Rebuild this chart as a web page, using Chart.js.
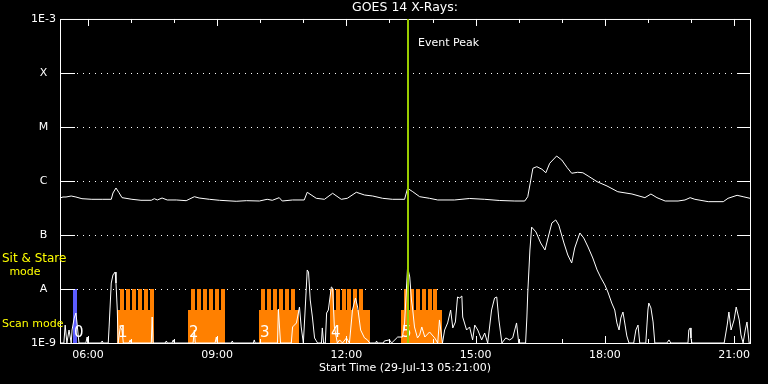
<!DOCTYPE html>
<html>
<head>
<meta charset="utf-8">
<script src="https://cdn.jsdelivr.net/npm/chart.js@4.4.0/dist/chart.umd.min.js"></script>
<style>
  html, body { margin: 0; padding: 0; background: #000; }
  canvas { display: block; }
</style>
</head>
<body>
<canvas id="goes" width="768" height="384"></canvas>
<script>
// time axis is decimal hours UT, plot starts 29-Jul-13 05:21
const startHour = 5.35;
const endHour = 21.37;
const hourTicks = [6, 7, 8, 9, 10, 11, 12, 13, 14, 15, 16, 17, 18, 19, 20, 21];

const classTicks = [1e-9, 1e-8, 1e-7, 1e-6, 1e-5, 1e-4, 1e-3];
const classLabels = ['1E-9', 'A', 'B', 'C', 'M', 'X', '1E-3'];

// 1-8 A channel (W/m^2)
const longHours = [
  5.35, 5.42, 5.49, 5.61, 5.72, 5.86, 6.09, 6.33, 6.54, 6.58,
  6.65, 6.72, 6.79, 7.02, 7.23, 7.47, 7.54, 7.61, 7.72, 7.84,
  8.05, 8.28, 8.47, 8.58, 8.82, 9.05, 9.44, 9.68, 9.98, 10.16,
  10.28, 10.44, 10.51, 10.75, 11.02, 11.09, 11.30, 11.49, 11.68, 11.88,
  12.02, 12.23, 12.42, 12.61, 12.84, 13.07, 13.35, 13.42, 13.54, 13.70,
  13.93, 14.12, 14.51, 14.86, 15.21, 15.56, 15.91, 16.14, 16.21, 16.28,
  16.33, 16.42, 16.54, 16.63, 16.72, 16.88, 17.00, 17.12, 17.23, 17.37,
  17.49, 17.61, 17.82, 18.05, 18.30, 18.63, 18.93, 19.07, 19.21, 19.40,
  19.70, 19.86, 19.98, 20.09, 20.40, 20.75, 20.86, 21.07, 21.21, 21.37
];
const longFlux = [
  4.84e-7, 5.05e-7, 5.05e-7, 5.27e-7, 5.05e-7, 4.70e-7, 4.58e-7, 4.58e-7, 4.58e-7, 5.99e-7,
  7.42e-7, 6.07e-7, 4.91e-7, 4.58e-7, 4.39e-7, 4.39e-7, 4.70e-7, 4.45e-7, 4.84e-7, 4.45e-7,
  4.45e-7, 4.32e-7, 5.12e-7, 4.84e-7, 4.58e-7, 4.39e-7, 4.21e-7, 4.32e-7, 4.26e-7, 4.58e-7,
  4.39e-7, 4.91e-7, 4.26e-7, 4.45e-7, 4.45e-7, 6.18e-7, 4.78e-7, 4.58e-7, 5.92e-7, 4.58e-7,
  4.78e-7, 6.18e-7, 5.50e-7, 5.27e-7, 4.78e-7, 4.58e-7, 4.58e-7, 7.32e-7, 6.33e-7, 5.12e-7,
  4.78e-7, 4.45e-7, 4.45e-7, 4.74e-7, 4.58e-7, 4.35e-7, 4.26e-7, 4.26e-7, 5.12e-7, 1.04e-6,
  1.72e-6, 1.84e-6, 1.65e-6, 1.42e-6, 2.13e-6, 2.90e-6, 2.45e-6, 1.79e-6, 1.39e-6, 1.45e-6,
  1.42e-6, 1.24e-6, 9.70e-7, 8.08e-7, 6.33e-7, 5.74e-7, 4.91e-7, 5.74e-7, 4.91e-7, 4.26e-7,
  4.26e-7, 4.45e-7, 4.91e-7, 4.58e-7, 4.14e-7, 4.14e-7, 4.78e-7, 5.43e-7, 5.12e-7, 4.78e-7
];

// 0.5-4 A channel, in units of 1e-9 W/m^2 (floor of the plot is 1.0)
const shortHours = [
  5.35, 5.44, 5.47, 5.51, 5.56, 5.61, 5.63, 5.68, 5.72, 5.75,
  5.79, 5.95, 5.98, 6.00, 6.30, 6.33, 6.35, 6.47, 6.49, 6.54,
  6.58, 6.63, 6.65, 6.68, 6.70, 6.75, 6.79, 6.82, 6.95, 6.98,
  7.00, 7.47, 7.49, 7.51, 7.79, 7.82, 7.84, 7.95, 7.98, 8.00,
  8.44, 8.47, 8.49, 8.95, 8.98, 9.00, 9.33, 9.35, 9.37, 9.84,
  9.86, 9.88, 10.40, 10.42, 10.47, 10.72, 10.75, 10.84, 10.91, 10.95,
  11.00, 11.05, 11.09, 11.12, 11.16, 11.21, 11.26, 11.33, 11.42, 11.44,
  11.47, 11.51, 11.54, 11.58, 11.65, 11.68, 11.72, 11.79, 11.84, 11.91,
  12.00, 12.07, 12.14, 12.21, 12.26, 12.33, 12.42, 12.49, 12.54, 12.68,
  12.70, 12.72, 12.86, 12.88, 13.00, 13.05, 13.19, 13.30, 13.35, 13.40,
  13.42, 13.47, 13.51, 13.54, 13.58, 13.65, 13.70, 13.75, 13.82, 13.93,
  14.05, 14.12, 14.16, 14.23, 14.28, 14.35, 14.42, 14.47, 14.53, 14.58,
  14.63, 14.68, 14.70, 14.79, 14.86, 14.93, 14.98, 15.05, 15.14, 15.21,
  15.28, 15.37, 15.44, 15.49, 15.54, 15.61, 15.70, 15.79, 15.86, 15.95,
  16.00, 16.16, 16.19, 16.21, 16.26, 16.30, 16.40, 16.51, 16.61, 16.68,
  16.77, 16.86, 16.93, 17.05, 17.14, 17.23, 17.30, 17.42, 17.51, 17.61,
  17.72, 17.82, 17.91, 18.00, 18.07, 18.16, 18.23, 18.28, 18.33, 18.37,
  18.42, 18.47, 18.51, 18.56, 18.67, 18.72, 18.77, 18.81, 18.95, 19.00,
  19.02, 19.07, 19.12, 19.16, 19.44, 19.49, 19.53, 19.93, 19.95, 19.98,
  20.00, 20.02, 20.77, 20.84, 20.88, 20.93, 21.00, 21.05, 21.12, 21.16,
  21.21, 21.26, 21.30, 21.35, 21.37
];
const shortFluxNano = [
  1.0, 1.0, 2.15, 1.0, 1.74, 1.0, 1.74, 2.90, 3.59, 2.15,
  1.0, 1.0, 1.29, 1.0, 1.0, 1.09, 1.0, 1.0, 1.98, 12.9,
  18.2, 20.6, 12.9, 4.08, 1.0, 1.98, 1.74, 1.0, 1.0, 1.14,
  1.0, 1.0, 3.03, 1.0, 1.0, 1.09, 1.0, 1.0, 1.14, 1.0,
  1.0, 1.74, 1.0, 1.0, 1.29, 1.0, 1.0, 1.09, 1.0, 1.0,
  1.14, 1.0, 1.0, 4.26, 1.0, 1.0, 1.98, 2.35, 4.64, 1.98,
  1.0, 5.50, 22.5, 20.6, 6.25, 3.03, 1.24, 1.0, 1.0, 1.90,
  1.0, 1.0, 3.59, 4.08, 10.9, 10.4, 1.98, 1.0, 1.14, 1.0,
  1.24, 1.0, 4.08, 6.81, 4.64, 1.74, 1.24, 1.14, 1.0, 1.0,
  1.09, 1.0, 1.0, 1.09, 1.14, 1.0, 1.29, 1.29, 2.35, 12.9,
  25.5, 16.7, 6.25, 4.08, 1.98, 1.24, 1.41, 1.98, 1.29, 1.60,
  1.24, 1.0, 2.67, 1.0, 1.74, 2.35, 4.08, 1.90, 2.45, 7.11,
  6.81, 7.42, 3.03, 1.74, 1.98, 1.14, 2.15, 1.74, 1.14, 1.53,
  1.0, 4.08, 6.81, 7.11, 2.67, 1.0, 1.24, 1.14, 1.24, 2.35,
  1.0, 1.0, 3.03, 8.42, 52.7, 140, 114, 71.1, 52.7, 88.0,
  167, 190, 153, 71.1, 42.6, 30.3, 57.4, 109, 88.0, 59.9,
  37.5, 22.5, 16.0, 11.9, 8.80, 5.50, 4.08, 2.35, 1.74, 2.90,
  3.75, 2.15, 1.35, 1.0, 1.0, 1.74, 2.15, 1.0, 1.0, 4.08,
  5.50, 4.45, 2.45, 1.0, 1.0, 1.14, 1.0, 1.0, 1.74, 1.90,
  1.24, 1.0, 1.0, 2.15, 3.75, 1.74, 2.67, 4.64, 2.67, 1.41,
  1.0, 1.74, 2.45, 1.0, 1.0
];

// observing modes
const stareStart = [5.65];
const stareEnd = [5.74];
const scanStart = [6.68, 8.33, 9.96, 11.61, 13.26];
const scanEnd = [7.54, 9.19, 10.89, 12.54, 14.21];
const scanTeeth = [
  [6.75, 6.89, 7.02, 7.16, 7.30, 7.44],
  [8.40, 8.54, 8.68, 8.82, 8.96, 9.09],
  [10.02, 10.16, 10.30, 10.44, 10.58, 10.72],
  [11.61, 11.75, 11.89, 12.02, 12.16, 12.30],
  [13.33, 13.47, 13.61, 13.75, 13.89, 14.02]
];
const modeLabels = ['0', '1', '2', '3', '4', '5'];
const modeLabelHours = [5.65, 6.68, 8.33, 9.96, 11.61, 13.26];

const eventPeakHour = 13.42;

const FONT = "'DejaVu Sans'";
Chart.defaults.font.family = FONT;
Chart.defaults.color = '#fff';

function hhmm(h) {
  return (h < 10 ? '0' : '') + h + ':00';
}

const goesDecor = {
  id: 'goesDecor',
  beforeDraw(chart) {
    const ctx = chart.ctx;
    ctx.save();
    ctx.fillStyle = '#000';
    ctx.fillRect(0, 0, chart.width, chart.height);
    ctx.restore();
  },
  beforeDatasetsDraw(chart) {
    const { ctx, chartArea: a, scales: { x, y } } = chart;
    const px = v => Math.round(x.getPixelForValue(v));
    ctx.save();
    // dotted flare class lines
    ctx.strokeStyle = '#fff';
    ctx.lineWidth = 1;
    ctx.setLineDash([1, 5]);
    for (let i = 1; i < classTicks.length - 1; i++) {
      const py = Math.round(y.getPixelForValue(classTicks[i])) + 0.5;
      ctx.beginPath();
      ctx.moveTo(a.left + 17, py);
      ctx.lineTo(a.right - 14, py);
      ctx.stroke();
    }
    ctx.setLineDash([]);

    // scan mode blocks with sit & stare teeth
    const yA = Math.round(y.getPixelForValue(1e-8));
    const yScan = Math.round(y.getPixelForValue(4.1e-9));
    ctx.fillStyle = '#ff8000';
    scanStart.forEach((s, i) => {
      const x0 = px(s);
      ctx.fillRect(x0, yScan, px(scanEnd[i]) - x0, a.bottom - yScan);
      scanTeeth[i].forEach(t => {
        const t0 = px(t);
        ctx.fillRect(t0, yA, 4, a.bottom - yA);
      });
    });
    ctx.fillStyle = '#5c5cff';
    stareStart.forEach((s, i) => {
      const x0 = px(s);
      ctx.fillRect(x0, yA, px(stareEnd[i]) - x0, a.bottom - yA);
    });

    // mode numbers
    ctx.fillStyle = '#fff';
    ctx.font = '15px ' + FONT;
    ctx.textAlign = 'left';
    ctx.textBaseline = 'middle';
    modeLabels.forEach((lab, i) => {
      ctx.fillText(lab, px(modeLabelHours[i]) + 1, a.bottom - 10);
    });
    ctx.restore();
  },
  afterDatasetsDraw(chart) {
    const { ctx, chartArea: a, scales: { x, y } } = chart;
    ctx.save();
    ctx.strokeStyle = '#fff';
    ctx.lineWidth = 1;
    // frame
    ctx.strokeRect(a.left + 0.5, a.top + 0.5, a.right - a.left, a.bottom - a.top);
    // class ticks, inside on both sides
    ctx.beginPath();
    for (let i = 1; i < classTicks.length - 1; i++) {
      const py = Math.round(y.getPixelForValue(classTicks[i])) + 0.5;
      ctx.moveTo(a.left, py); ctx.lineTo(a.left + 15, py);
      ctx.moveTo(a.right - 13, py); ctx.lineTo(a.right + 1, py);
    }
    // hour ticks, top and bottom
    x.ticks.forEach((t, i) => {
      const tx = Math.round(x.getPixelForTick(i)) + 0.5;
      const len = t.value % 3 === 0 ? 7 : 4;
      ctx.moveTo(tx, a.top); ctx.lineTo(tx, a.top + len);
      ctx.moveTo(tx, a.bottom); ctx.lineTo(tx, a.bottom - len);
    });
    ctx.stroke();

    // event peak marker
    const ex = Math.round(x.getPixelForValue(eventPeakHour));
    ctx.strokeStyle = '#99cc00';
    ctx.lineWidth = 2;
    ctx.beginPath();
    ctx.moveTo(ex, a.top);
    ctx.lineTo(ex, a.bottom);
    ctx.stroke();
    ctx.fillStyle = '#fff';
    ctx.font = '11px ' + FONT;
    ctx.textAlign = 'left';
    ctx.textBaseline = 'middle';
    ctx.fillText('Event Peak', ex + 10, a.top + 24);

    // mode captions on the left
    ctx.fillStyle = '#ffff00';
    ctx.font = '12px ' + FONT;
    ctx.fillText('Sit & Stare', 2, 259);
    ctx.font = '11px ' + FONT;
    ctx.textAlign = 'center';
    ctx.fillText('mode', 25, 272);
    ctx.textAlign = 'left';
    ctx.fillText('Scan mode', 2, 324);
    ctx.restore();
  }
};

const longData = longHours.map((h, i) => ({ x: h, y: longFlux[i] }));
const shortData = shortHours.map((h, i) => ({ x: h, y: shortFluxNano[i] * 1e-9 }));

new Chart(document.getElementById('goes'), {
  type: 'line',
  data: {
    datasets: [
      { label: '1-8 A', data: longData, borderColor: '#fff', borderWidth: 1, pointRadius: 0, tension: 0, fill: false },
      { label: '0.5-4 A', data: shortData, borderColor: '#fff', borderWidth: 1, pointRadius: 0, tension: 0, fill: false }
    ]
  },
  options: {
    responsive: false,
    animation: false,
    layout: { padding: { left: 0, right: 18, top: 0, bottom: 0 } },
    plugins: {
      legend: { display: false },
      tooltip: { enabled: false },
      title: {
        display: true,
        text: 'GOES 14 X-Rays:',
        color: '#fff',
        fullSize: false,
        font: { size: 12.5, weight: 'normal', lineHeight: 1.15 },
        padding: { top: 1, bottom: 3.6 }
      }
    },
    scales: {
      x: {
        type: 'linear',
        min: startHour,
        max: endHour,
        afterBuildTicks: s => { s.ticks = hourTicks.map(v => ({ value: v })); },
        afterFit: s => { s.height = 41; },
        grid: { display: false, drawTicks: false },
        border: { display: false },
        ticks: {
          color: '#fff',
          autoSkip: false,
          maxRotation: 0,
          padding: 6,
          font: { size: 11 },
          callback: v => (v % 3 === 0 ? hhmm(v) : '')
        },
        title: {
          display: true,
          text: 'Start Time (29-Jul-13 05:21:00)',
          color: '#fff',
          font: { size: 11 },
          padding: { top: 0, bottom: 9 }
        }
      },
      y: {
        type: 'logarithmic',
        min: 1e-9,
        max: 1e-3,
        afterBuildTicks: s => { s.ticks = classTicks.map(v => ({ value: v })); },
        afterFit: s => { s.width = 60; },
        grid: { display: false, drawTicks: false },
        border: { display: false },
        ticks: {
          color: '#fff',
          crossAlign: 'center',
          padding: 4,
          font: { size: 11 },
          callback: v => {
            const i = classTicks.findIndex(c => Math.abs(Math.log10(c) - Math.log10(v)) < 1e-6);
            return i >= 0 ? classLabels[i] : '';
          }
        }
      }
    }
  },
  plugins: [goesDecor]
});
</script>
</body>
</html>
